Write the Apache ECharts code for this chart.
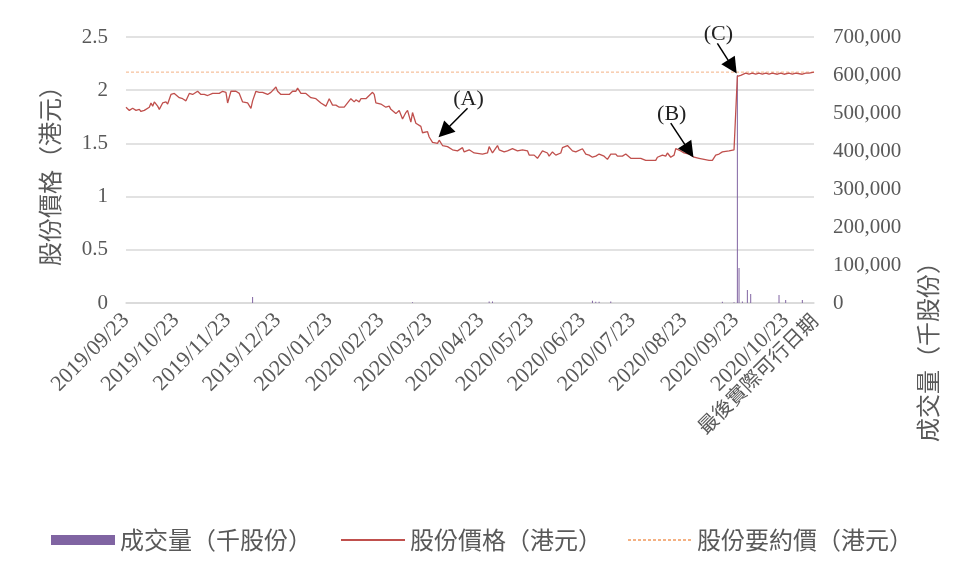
<!DOCTYPE html>
<html>
<head>
<meta charset="utf-8">
<title>股份價格及成交量</title>
<script src="https://cdn.jsdelivr.net/npm/echarts@6/dist/echarts.min.js"></script>
<style>
  html, body { margin: 0; padding: 0; background: #fff; }
  #main { width: 964px; height: 583px; }
</style>
</head>
<body>
<div id="main"></div>
<script>
// 股份價格（港元）
var priceDates = [
  '2019-09-23', '2019-09-25', '2019-09-27', '2019-09-29', '2019-10-01', '2019-10-02', '2019-10-04',
  '2019-10-07', '2019-10-08', '2019-10-09', '2019-10-10', '2019-10-12', '2019-10-13', '2019-10-15',
  '2019-10-16', '2019-10-17', '2019-10-18', '2019-10-20', '2019-10-22', '2019-10-25', '2019-10-27',
  '2019-10-29', '2019-10-31', '2019-11-02', '2019-11-03', '2019-11-05', '2019-11-07', '2019-11-09',
  '2019-11-11', '2019-11-14', '2019-11-18', '2019-11-20', '2019-11-22', '2019-11-23', '2019-11-25',
  '2019-11-28', '2019-11-30', '2019-12-02', '2019-12-05', '2019-12-07', '2019-12-08', '2019-12-10',
  '2019-12-12', '2019-12-14', '2019-12-17', '2019-12-19', '2019-12-22', '2019-12-23', '2019-12-25',
  '2019-12-30', '2020-01-01', '2020-01-03', '2020-01-04', '2020-01-06', '2020-01-09', '2020-01-12',
  '2020-01-15', '2020-01-18', '2020-01-21', '2020-01-23', '2020-01-25', '2020-01-27', '2020-01-29',
  '2020-02-01', '2020-02-03', '2020-02-05', '2020-02-07', '2020-02-08', '2020-02-10', '2020-02-11',
  '2020-02-14', '2020-02-16', '2020-02-18', '2020-02-19', '2020-02-20', '2020-02-23', '2020-02-26',
  '2020-02-28', '2020-02-29', '2020-03-03', '2020-03-05', '2020-03-07', '2020-03-09', '2020-03-10',
  '2020-03-12', '2020-03-13', '2020-03-15', '2020-03-18', '2020-03-19', '2020-03-22', '2020-03-23',
  '2020-03-25', '2020-03-26', '2020-03-28', '2020-03-29', '2020-03-31', '2020-04-03', '2020-04-06',
  '2020-04-07', '2020-04-09', '2020-04-12', '2020-04-13', '2020-04-16', '2020-04-19', '2020-04-24',
  '2020-04-27', '2020-04-28', '2020-04-30', '2020-05-03', '2020-05-04', '2020-05-07', '2020-05-09',
  '2020-05-12', '2020-05-15', '2020-05-18', '2020-05-21', '2020-05-22', '2020-05-25', '2020-05-27',
  '2020-05-30', '2020-05-31', '2020-06-02', '2020-06-03', '2020-06-05', '2020-06-07', '2020-06-10',
  '2020-06-11', '2020-06-14', '2020-06-15', '2020-06-17', '2020-06-19', '2020-06-20', '2020-06-23',
  '2020-06-25', '2020-06-27', '2020-06-29', '2020-07-01', '2020-07-03', '2020-07-06', '2020-07-08',
  '2020-07-10', '2020-07-13', '2020-07-14', '2020-07-17', '2020-07-19', '2020-07-22', '2020-07-28',
  '2020-07-31', '2020-08-06', '2020-08-07', '2020-08-10', '2020-08-12', '2020-08-13', '2020-08-15',
  '2020-08-17', '2020-08-18', '2020-08-21', '2020-08-23', '2020-08-26', '2020-08-29', '2020-09-01',
  '2020-09-04', '2020-09-07', '2020-09-09', '2020-09-11', '2020-09-13', '2020-09-15', '2020-09-19',
  '2020-09-22', '2020-09-23', '2020-09-24', '2020-09-26', '2020-09-29', '2020-10-01', '2020-10-03',
  '2020-10-05', '2020-10-07', '2020-10-09', '2020-10-11', '2020-10-13', '2020-10-15', '2020-10-18',
  '2020-10-20', '2020-10-22', '2020-10-25', '2020-10-27', '2020-10-29', '2020-11-02', '2020-11-04',
  '2020-11-06', '2020-11-09'
];
var priceValues = [
  1.84, 1.81, 1.83, 1.81, 1.82, 1.80, 1.81,
  1.84, 1.88, 1.85, 1.89, 1.85, 1.82, 1.88,
  1.87, 1.89, 1.87, 1.96, 1.97, 1.93, 1.92,
  1.90, 1.97, 1.96, 1.95, 1.99, 1.96, 1.96,
  1.95, 1.97, 1.97, 1.99, 1.98, 1.88, 1.99,
  1.99, 1.97, 1.89, 1.88, 1.83, 1.90, 1.99,
  1.98, 1.98, 1.96, 1.98, 2.03, 1.99, 1.96,
  1.96, 1.99, 1.99, 2.02, 1.97, 1.97, 1.93,
  1.92, 1.88, 1.85, 1.92, 1.86, 1.86, 1.84,
  1.84, 1.88, 1.92, 1.89, 1.91, 1.89, 1.92,
  1.92, 1.95, 1.98, 1.96, 1.88, 1.87, 1.84,
  1.85, 1.82, 1.78, 1.81, 1.73, 1.79, 1.81,
  1.70, 1.79, 1.69, 1.66, 1.60, 1.61, 1.56,
  1.51, 1.52, 1.50, 1.53, 1.48, 1.47, 1.44,
  1.45, 1.43, 1.46, 1.42, 1.44, 1.41, 1.40,
  1.41, 1.47, 1.41, 1.48, 1.44, 1.42, 1.43,
  1.45, 1.43, 1.44, 1.43, 1.39, 1.39, 1.36,
  1.43, 1.43, 1.41, 1.38, 1.42, 1.39, 1.41,
  1.46, 1.48, 1.49, 1.43, 1.42, 1.42, 1.45,
  1.40, 1.39, 1.37, 1.38, 1.40, 1.38, 1.35,
  1.40, 1.40, 1.38, 1.38, 1.40, 1.36, 1.36,
  1.34, 1.34, 1.37, 1.39, 1.38, 1.41, 1.37,
  1.39, 1.45, 1.43, 1.41, 1.40, 1.37, 1.36,
  1.35, 1.34, 1.34, 1.39, 1.40, 1.42, 1.43,
  1.44, 1.45, 2.13, 2.14, 2.16, 2.15, 2.16,
  2.15, 2.16, 2.15, 2.16, 2.15, 2.16, 2.15,
  2.16, 2.15, 2.16, 2.15, 2.16, 2.15, 2.16,
  2.16, 2.17
];

// 成交量（千股份）
var volumeDates = [
  '2019-12-08', '2020-03-13', '2020-04-28', '2020-04-30', '2020-06-29', '2020-07-01', '2020-07-03',
  '2020-07-10', '2020-09-15', '2020-09-22', '2020-09-24', '2020-09-25', '2020-09-27', '2020-09-30',
  '2020-10-02', '2020-10-19', '2020-10-23', '2020-11-02'
];
var volumeValues = [
  16000, 2000, 4000, 4000, 6000, 3000, 3000,
  4000, 3000, 2000, 600000, 92000, 4000, 34000,
  24000, 21000, 8000, 8000
];

var offerPrice = 2.17;

// x 軸標籤（最後一個另放一條軸，免被隱藏）
var labelDates = [
  '2019-09-23', '2019-10-23', '2019-11-23', '2019-12-23', '2020-01-23', '2020-02-23', '2020-03-23',
  '2020-04-23', '2020-05-23', '2020-06-23', '2020-07-23', '2020-08-23', '2020-09-23', '2020-10-23'
];
var tickLabels = [
  '2019/09/23', '2019/10/23', '2019/11/23', '2019/12/23', '2020/01/23', '2020/02/23', '2020/03/23',
  '2020/04/23', '2020/05/23', '2020/06/23', '2020/07/23', '2020/08/23', '2020/09/23', '2020/10/23'
];
var lastDate = '2020-11-09';
var lastLabel = '最後實際可行日期';

var seriesNames = ['成交量（千股份）', '股份價格（港元）', '股份要約價（港元）'];

// 標註 (A)(B)(C)：箭尾、箭頭
var noteNames = ['(A)', '(B)', '(C)'];
var noteFrom = [['2020-04-15', 1.83], ['2020-08-15', 1.69], ['2020-09-12', 2.44]];
var noteTo = [['2020-04-01', 1.61], ['2020-08-26', 1.43], ['2020-09-21', 2.22]];

var serif = '"Liberation Serif", "Times New Roman", "Noto Sans CJK TC", serif';
var cjk = '"Noto Sans CJK TC", sans-serif';
var grey = '#595959';

function t (s) {
  var p = s.split('-');
  return Date.UTC(+p[0], +p[1] - 1, +p[2]);
}
var labelTimes = labelDates.map(t);
var firstDay = t(priceDates[0]);
var lastDay = t(lastDate);

var arrows = [];
var noteLabels = [];
for (var i = 0; i < noteNames.length; i++) {
  arrows.push([
    { coord: [t(noteFrom[i][0]), noteFrom[i][1]] },
    { coord: [t(noteTo[i][0]), noteTo[i][1]] }
  ]);
  noteLabels.push({ name: noteNames[i], coord: [t(noteFrom[i][0]), noteFrom[i][1]] });
}

var legendText = { fontSize: 24, fontFamily: cjk, color: grey };

var chart = echarts.init(document.getElementById('main'));
var option = {
  animation: false,
  textStyle: { fontFamily: serif },
  grid: { left: 126, right: 150, top: 37, bottom: 280 },
  legend: [
    {
      left: 46,
      top: 523,
      itemWidth: 64,
      itemHeight: 10,
      itemGap: 28,
      textStyle: legendText,
      data: [
        { name: seriesNames[0], icon: 'rect' },
        { name: seriesNames[1], itemStyle: { opacity: 0 } }
      ]
    },
    {
      left: 622,
      top: 523,
      itemWidth: 64,
      itemHeight: 10,
      textStyle: legendText,
      data: [{ name: seriesNames[2], itemStyle: { opacity: 0 } }]
    }
  ],
  xAxis: [
    {
      type: 'value',
      min: firstDay,
      max: lastDay,
      axisLine: { lineStyle: { color: '#d9d9d9', width: 1.5 } },
      axisTick: { show: false },
      splitLine: { show: false },
      axisLabel: {
        customValues: labelTimes,
        rotate: 45,
        margin: 14,
        color: grey,
        fontSize: 22,
        fontFamily: serif,
        hideOverlap: false,
        formatter: function (v) {
          for (var k = 0; k < labelTimes.length; k++) {
            if (Math.abs(labelTimes[k] - v) < 3600000) return tickLabels[k];
          }
          return '';
        }
      }
    },
    {
      type: 'value',
      min: firstDay,
      max: lastDay,
      position: 'bottom',
      axisLine: { show: false },
      axisTick: { show: false },
      splitLine: { show: false },
      axisLabel: {
        customValues: [lastDay],
        showMaxLabel: true,
        rotate: 45,
        margin: 14,
        color: grey,
        fontSize: 20,
        fontFamily: cjk,
        formatter: function () { return lastLabel; }
      }
    }
  ],
  yAxis: [
    {
      type: 'value',
      min: 0,
      max: 2.5,
      interval: 0.5,
      name: '股份價格（港元）',
      nameLocation: 'middle',
      nameRotate: 90,
      nameGap: 64,
      nameTextStyle: { fontSize: 24, fontFamily: cjk, color: grey },
      axisLine: { show: false },
      axisTick: { show: false },
      axisLabel: { color: grey, fontSize: 21, fontFamily: serif, margin: 18 },
      splitLine: { lineStyle: { color: '#d9d9d9', width: 1.5 } }
    },
    {
      type: 'value',
      min: 0,
      max: 700000,
      interval: 100000,
      axisLine: { show: false },
      axisTick: { show: false },
      splitLine: { show: false },
      axisLabel: {
        color: grey,
        fontSize: 21,
        fontFamily: serif,
        margin: 19,
        formatter: function (v) { return v.toLocaleString('en-US'); }
      }
    }
  ],
  graphic: [
    {
      type: 'text',
      x: 928,
      y: 346,
      rotation: Math.PI / 2,
      style: {
        text: '成交量（千股份）',
        fontSize: 24,
        fontFamily: cjk,
        fill: grey,
        align: 'center',
        verticalAlign: 'middle'
      }
    }
  ],
  series: [
    {
      name: seriesNames[0],
      type: 'bar',
      yAxisIndex: 1,
      barWidth: 1,
      itemStyle: { color: '#8064a2' },
      data: volumeDates.map(function (d, k) { return [t(d), volumeValues[k]]; })
    },
    {
      name: seriesNames[1],
      type: 'line',
      z: 4,
      showSymbol: false,
      symbol: 'none',
      lineStyle: { color: '#c0504d', width: 1.3 },
      itemStyle: { color: '#c0504d' },
      data: priceDates.map(function (d, k) { return [t(d), priceValues[k]]; }),
      markLine: {
        silent: true,
        symbol: ['none', 'triangle'],
        symbolSize: 16,
        lineStyle: { color: '#000', width: 1.5, type: 'solid' },
        label: { show: false },
        data: arrows
      },
      markPoint: {
        silent: true,
        symbol: 'circle',
        symbolSize: 0,
        label: {
          show: true,
          position: 'inside',
          offset: [1, -9],
          formatter: '{b}',
          color: '#222',
          fontSize: 22,
          fontFamily: serif
        },
        data: noteLabels
      }
    },
    {
      name: seriesNames[2],
      type: 'line',
      z: 3,
      showSymbol: false,
      symbol: 'none',
      lineStyle: { color: '#f4b183', width: 1, type: [3, 2] },
      itemStyle: { color: '#f4b183' },
      data: [[firstDay, offerPrice], [lastDay, offerPrice]]
    }
  ]
};
chart.setOption(option);
</script>
</body>
</html>
